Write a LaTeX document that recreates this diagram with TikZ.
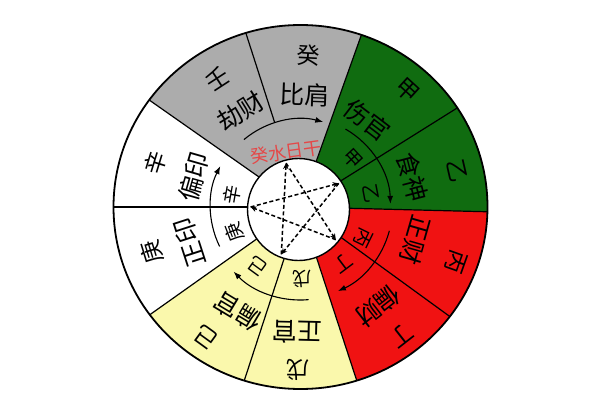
\documentclass[tikz,border=0pt]{standalone}
\usepackage{fontspec}
\newfontfamily\cjk{Noto Sans CJK SC}
\usetikzlibrary{arrows.meta,calc}
\definecolor{wgray}{RGB}{172,172,172}
\definecolor{wgreen}{RGB}{16,108,16}
\definecolor{wred}{RGB}{240,18,18}
\definecolor{wyellow}{RGB}{250,248,172}
\definecolor{wpink}{RGB}{228,72,72}
\begin{document}
\begin{tikzpicture}[x=1pt,y=1pt,
  lab/.style={font=\cjk\fontsize{23}{23}\selectfont, inner sep=0pt},
  word/.style={font=\cjk\fontsize{25}{25}\selectfont, inner sep=0pt},
  small/.style={font=\cjk\fontsize{19}{19}\selectfont, inner sep=0pt},
  divider/.style={line width=1.2pt},
  flow/.style={line width=1.1pt,-{Latex[length=8pt,width=6pt]}},
  starline/.style={line width=1.5pt,dash pattern=on 4pt off 2.5pt,-{Stealth[length=6pt,width=5.5pt]}},
]
\useasboundingbox (0,0) rectangle (600,400);
\fill[white] (0,0) rectangle (600,400);
\coordinate (C) at (300.5,193);
\coordinate (I) at (298.5,190.5);
\newcommand\wsector[3]{\fill[#1] (C) -- ++(#2:187 and 182) arc[start angle=#2,end angle=#3,x radius=187,y radius=182] -- cycle;}
\newcommand\wlab[5]{\pgfmathsetmacro\wrot{#2-90}\node[#1,rotate=\wrot] (#5) at ($(C)+(#2:#3)$) {#4};}
\newcommand\wdiv[2]{\draw[divider] ($(C)+(#1:#2)$) -- ($(C)+(#1:187 and 182)$);}
% sectors
\wsector{wgray}{71}{144}
\wsector{white}{144}{216.3}
\wsector{wyellow}{216.3}{287.5}
\wsector{wred}{287.5}{358.5}
\node[font=\cjk\fontsize{18}{18}\selectfont, text=wpink, rotate=8, inner sep=0pt] (rt) at (286,248) {癸水日干};
\wsector{wgreen}{-1.5}{71}
% dividers
\foreach \a in {144,71,-1.5,-72.5,216.3,180,33,-37,-107.5} {\wdiv{\a}{45}}
\wdiv{107}{88}
\draw[line width=1.8pt] (C) ellipse[x radius=187,y radius=182];
% inner circle
\fill[white] (I) circle[radius=51];
\draw[line width=1.4pt] (I) circle[radius=51];
% flow arcs
\draw[flow] (C) ++(130:88) arc[start angle=130,end angle=75,radius=88];
\draw[flow] (C) ++(206:90) arc[start angle=206,end angle=153,radius=90];
\draw[flow] (C) ++(275:93) arc[start angle=275,end angle=224,radius=93];
\draw[flow] (C) ++(345:92) arc[start angle=345,end angle=294,radius=92];
\draw[flow] (C) ++(60:90) arc[start angle=60,end angle=2,radius=90];
% labels gray
\wlab{lab}{87}{152}{癸}{g1}
\wlab{word}{88}{112}{比肩}{g2}
\wlab{lab}{123}{153}{壬}{g3}
\wlab{word}{122}{113}{劫财}{g4}
% white
\wlab{lab}{163}{152}{辛}{w1}
\wlab{word}{164}{111}{偏印}{w2}
\wlab{small}{170}{70}{辛}{w3}
\wlab{lab}{197}{155}{庚}{w4}
\wlab{word}{198}{116}{正印}{w5}
\wlab{small}{201}{71}{庚}{w6}
% yellow
\wlab{lab}{234}{161}{己}{y1}
\wlab{word}{239}{122}{偏官}{y2}
\wlab{small}{234}{73}{己}{y3}
\wlab{lab}{269}{163}{戊}{y4}
\wlab{word}{268.6}{125}{正官}{y5}
\wlab{small}{271.6}{72}{戊}{y6}
% red
\wlab{lab}{-19.6}{165}{丙}{r1}
\wlab{word}{-16}{120}{正财}{r2}
\wlab{small}{-26}{70}{丙}{r3}
\wlab{lab}{-52}{163}{丁}{r4}
\wlab{word}{-52}{126}{偏财}{r5}
\wlab{small}{-53}{71}{丁}{r6}
% green
\wlab{lab}{47.6}{158}{甲}{n1}
\wlab{word}{52.6}{110}{伤官}{n2}
\wlab{small}{43}{71}{甲}{n3}
\wlab{lab}{13}{161}{乙}{n4}
\wlab{word}{14.8}{116}{食神}{n5}
\wlab{small}{11}{72}{乙}{n6}
% star
\coordinate (sE) at ($(I)+(177:48)$);
\coordinate (sA) at ($(I)+(105:48)$);
\coordinate (sB) at ($(I)+(33:48)$);
\coordinate (sC) at ($(I)+(-39:48)$);
\coordinate (sD) at ($(I)+(-111:48)$);
\draw[starline] (sE) -- (sB);
\draw[starline] (sB) -- (sD);
\draw[starline] (sD) -- (sA);
\draw[starline] (sA) -- (sC);
\draw[starline] (sC) -- (sE);
\end{tikzpicture}
\end{document}
